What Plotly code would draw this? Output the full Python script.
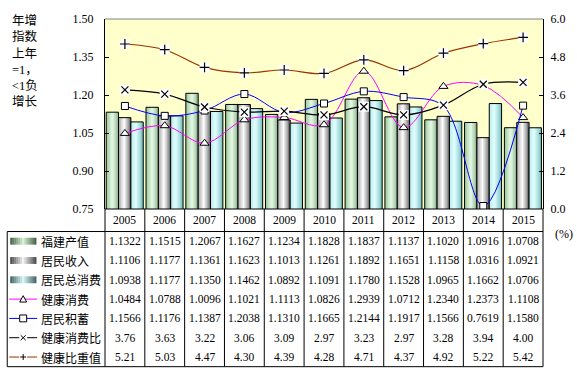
import plotly.graph_objects as go

years = ['2005', '2006', '2007', '2008', '2009', '2010', '2011', '2012', '2013', '2014', '2015']
fujian_output = [1.1322, 1.1515, 1.2067, 1.1627, 1.1234, 1.1828, 1.1837, 1.1137, 1.1020, 1.0916, 1.0708]
resident_income = [1.1106, 1.1177, 1.1361, 1.1623, 1.1013, 1.1261, 1.1892, 1.1651, 1.1158, 1.0316, 1.0921]
resident_consumption = [1.0938, 1.1177, 1.1350, 1.1462, 1.0892, 1.1091, 1.1780, 1.1528, 1.0965, 1.1662, 1.0706]
health_consumption = [1.0484, 1.0788, 1.0096, 1.1021, 1.1113, 1.0826, 1.2939, 1.0712, 1.2340, 1.2373, 1.1108]
resident_savings = [1.1566, 1.1176, 1.1387, 1.2038, 1.1310, 1.1665, 1.2144, 1.1917, 1.1566, 0.7619, 1.1580]
health_consumption_ratio = [3.76, 3.63, 3.22, 3.06, 3.09, 2.97, 3.23, 2.97, 3.28, 3.94, 4.00]
health_share_value = [5.21, 5.03, 4.47, 4.30, 4.39, 4.28, 4.71, 4.37, 4.92, 5.22, 5.42]
series_names = ['福建产值', '居民收入', '居民总消费', '健康消费', '居民积蓄', '健康消费比', '健康比重值']
left_ticks = [0.75, 0.90, 1.05, 1.20, 1.35, 1.50]
right_ticks = [0.0, 1.2, 2.4, 3.6, 4.8, 6.0]
axis_title = '年增<br>指数<br>上年<br>=1，<br>&lt;1负<br>增长'
right_unit = '(%)'

W_FIG, H_FIG = 577, 375
L, R, T, B = 105, 544, 15, 209
W, H = R - L, B - T


def X(px):
    return (px - L) / W


def Y(py):
    return (B - py) / H


def hex2rgb(h):
    h = h.lstrip('#')
    return tuple(int(h[i:i + 2], 16) for i in (0, 2, 4))


def grad(stops, t):
    for (t0, c0), (t1, c1) in zip(stops[:-1], stops[1:]):
        if t0 <= t <= t1:
            a = (t - t0) / (t1 - t0) if t1 > t0 else 0
            r0, g0, b0 = hex2rgb(c0)
            r1, g1, b1 = hex2rgb(c1)
            return 'rgb(%d,%d,%d)' % (r0 + (r1 - r0) * a, g0 + (g1 - g0) * a, b0 + (b1 - b0) * a)
    return stops[-1][1]


xidx = list(range(len(years)))
fig = go.Figure()

bar_series = [fujian_output, resident_income, resident_consumption]
bar_grads = [
    [(0, '#98c898'), (0.5, '#e8fbe8'), (1, '#90b890')],
    [(0, '#a8a8a8'), (0.45, '#ffffff'), (1, '#707070')],
    [(0, '#b8ecec'), (0.4, '#e4ffff'), (1, '#7cc4c4')],
]
bw = 0.31
offsets = [-0.47, -0.16, 0.15]
NS = 10
for vals, stops, off in zip(bar_series, bar_grads, offsets):
    for k in range(NS):
        fig.add_trace(go.Bar(x=xidx, y=vals, offset=off + k * bw / NS, width=bw - k * bw / NS,
                             marker=dict(color=grad(stops, (k + 0.5) / NS), line=dict(width=0)),
                             hoverinfo='skip', showlegend=False))
    fig.add_trace(go.Bar(x=xidx, y=vals, offset=off, width=bw,
                         marker=dict(color='rgba(0,0,0,0)', line=dict(color='black', width=1)),
                         hoverinfo='skip', showlegend=False))

fig.add_trace(go.Scatter(x=xidx, y=health_consumption, mode='lines+markers',
                         line=dict(color='#FF00FF', width=1, shape='spline'),
                         marker=dict(symbol='triangle-up', size=8, color='white',
                                     line=dict(color='black', width=1)), showlegend=False))
fig.add_trace(go.Scatter(x=xidx, y=resident_savings, mode='lines+markers',
                         line=dict(color='#0000FF', width=1, shape='spline'),
                         marker=dict(symbol='square', size=7, color='white',
                                     line=dict(color='black', width=1)), showlegend=False))

for vals, col, sym in [(health_consumption_ratio, 'black', 'x-thin'), (health_share_value, '#993300', 'cross-thin')]:
    fig.add_trace(go.Scatter(x=xidx, y=vals, yaxis='y2', mode='lines',
                             line=dict(color=col, width=1.2, shape='spline'), showlegend=False))
    fig.add_trace(go.Scatter(x=xidx, y=vals, yaxis='y2', mode='markers',
                             marker=dict(symbol='square', size=10, color='white', line=dict(width=0)),
                             showlegend=False))
    fig.add_trace(go.Scatter(x=xidx, y=vals, yaxis='y2', mode='markers',
                             marker=dict(symbol=sym, size=7, color='black', line=dict(color='black', width=1.2)),
                             showlegend=False))

shapes = []
annots = []


def line(px0, py0, px1, py1, color='black', width=1):
    shapes.append(dict(type='line', xref='paper', yref='paper', x0=X(px0), y0=Y(py0), x1=X(px1), y1=Y(py1),
                       line=dict(color=color, width=width)))


# top border of plot area
line(L, T, R, T, color='#808080')

# table
TL = 7
HDR = 232
TB = 370
ncat = len(years)
cw = W / ncat
line(L, B, R, B)
line(TL, HDR, R, HDR)
line(TL, TB, R, TB)
line(TL, HDR, TL, TB)
for i in range(ncat + 1):
    line(L + i * cw, B, L + i * cw, TB)

num_font = dict(family='Liberation Serif, Times New Roman, serif', size=11.5, color='black')
for i, yr in enumerate(years):
    annots.append(dict(xref='paper', yref='paper', x=X(L + (i + 0.5) * cw), y=Y((B + HDR) / 2), text=yr,
                       showarrow=False, font=num_font, xanchor='center', yanchor='middle'))

rows = [(fujian_output, '%.4f'), (resident_income, '%.4f'), (resident_consumption, '%.4f'),
        (health_consumption, '%.4f'), (resident_savings, '%.4f'),
        (health_consumption_ratio, '%.2f'), (health_share_value, '%.2f')]
rh = (TB - HDR) / len(rows)
for r, (vals, fmt) in enumerate(rows):
    cy = HDR + (r + 0.5) * rh
    for i, v in enumerate(vals):
        annots.append(dict(xref='paper', yref='paper', x=X(L + (i + 0.5) * cw), y=Y(cy), text=fmt % v,
                           showarrow=False, font=num_font, xanchor='center', yanchor='middle'))
    annots.append(dict(xref='paper', yref='paper', x=X(39), y=Y(cy), text=series_names[r],
                       showarrow=False, xanchor='left', yanchor='middle',
                       font=dict(family='Noto Sans CJK SC', size=12, color='black')))

# legend keys
key_grads = [
    [(0, '#405840'), (0.5, '#d4f2d4'), (1, '#405840')],
    [(0, '#404040'), (0.5, '#f4f4f4'), (1, '#404040')],
    [(0, '#3c5c5c'), (0.5, '#d4f8f8'), (1, '#3c5c5c')],
]
kx0, kx1 = 10, 36
for r in range(3):
    cy = HDR + (r + 0.5) * rh
    nk = 13
    for k in range(nk):
        a0 = kx0 + (kx1 - kx0) * k / nk
        a1 = kx0 + (kx1 - kx0) * (k + 1) / nk + 0.3
        shapes.append(dict(type='rect', xref='paper', yref='paper', x0=X(a0), x1=X(a1), y0=Y(cy - 3.5),
                           y1=Y(cy + 3.5), fillcolor=grad(key_grads[r], (k + 0.5) / nk), line=dict(width=0)))
key_cols = ['#FF00FF', '#0000FF', 'black', '#993300']
for j, col in enumerate(key_cols):
    r = 3 + j
    cy = HDR + (r + 0.5) * rh
    mx = 23
    line(kx0 - 1, cy, kx1 + 1, cy, color=col)
    if j == 0:
        shapes.append(dict(type='path', xref='paper', yref='paper',
                           path='M %f,%f L %f,%f L %f,%f Z' % (X(mx - 3.5), Y(cy + 3), X(mx + 3.5), Y(cy + 3), X(mx), Y(cy - 3.5)),
                           fillcolor='white', line=dict(color='black', width=1)))
    elif j == 1:
        shapes.append(dict(type='rect', xref='paper', yref='paper', x0=X(mx - 3.5), x1=X(mx + 3.5),
                           y0=Y(cy + 3.5), y1=Y(cy - 3.5), fillcolor='white', line=dict(color='black', width=1)))
    elif j == 2:
        shapes.append(dict(type='rect', xref='paper', yref='paper', x0=X(mx - 4), x1=X(mx + 4),
                           y0=Y(cy + 4), y1=Y(cy - 4), fillcolor='white', line=dict(width=0)))
        line(mx - 2.5, cy - 2.5, mx + 2.5, cy + 2.5)
        line(mx - 2.5, cy + 2.5, mx + 2.5, cy - 2.5)
    else:
        shapes.append(dict(type='rect', xref='paper', yref='paper', x0=X(mx - 4), x1=X(mx + 4),
                           y0=Y(cy + 4), y1=Y(cy - 4), fillcolor='white', line=dict(width=0)))
        line(mx - 3, cy, mx + 3, cy)
        line(mx, cy - 3, mx, cy + 3)

annots.append(dict(xref='paper', yref='paper', x=X(10), y=Y(7), text=axis_title, showarrow=False,
                   xanchor='left', yanchor='top', align='left',
                   font=dict(family='Liberation Serif, Noto Sans CJK SC', size=12.5, color='black')))
annots.append(dict(xref='paper', yref='paper', x=X(565), y=Y(235), text=right_unit, showarrow=False,
                   xanchor='center', yanchor='middle', font=dict(family='Liberation Serif', size=12, color='black')))

fig.update_layout(
    width=W_FIG, height=H_FIG,
    margin=dict(l=L, r=W_FIG - R, t=T, b=H_FIG - B, pad=0),
    paper_bgcolor='white', plot_bgcolor='#FFFFCC',
    barmode='overlay', showlegend=False,
    xaxis=dict(range=[-0.5, len(years) - 0.5], showticklabels=False, showgrid=False, zeroline=False,
               ticks='', showline=False),
    yaxis=dict(range=[left_ticks[0], left_ticks[-1]], tickvals=left_ticks,
               ticktext=['%.2f' % v for v in left_ticks], showgrid=False, zeroline=False,
               showline=True, linecolor='black', linewidth=1, ticks='inside', ticklen=4,
               tickcolor='black', ticklabelstandoff=8,
               tickfont=dict(family='Liberation Serif', size=12, color='black')),
    yaxis2=dict(range=[right_ticks[0], right_ticks[-1]], tickvals=right_ticks,
                ticktext=['%.1f' % v for v in right_ticks], overlaying='y', side='right',
                showgrid=False, zeroline=False, showline=True, linecolor='black', linewidth=1,
                ticks='inside', ticklen=4, tickcolor='black', ticklabelstandoff=4,
                tickfont=dict(family='Liberation Serif', size=12, color='black')),
    shapes=shapes, annotations=annots,
)

fig.write_html('out.html', config={'displayModeBar': False},
               post_script="document.body.style.margin='0px';document.body.style.padding='0px';")
